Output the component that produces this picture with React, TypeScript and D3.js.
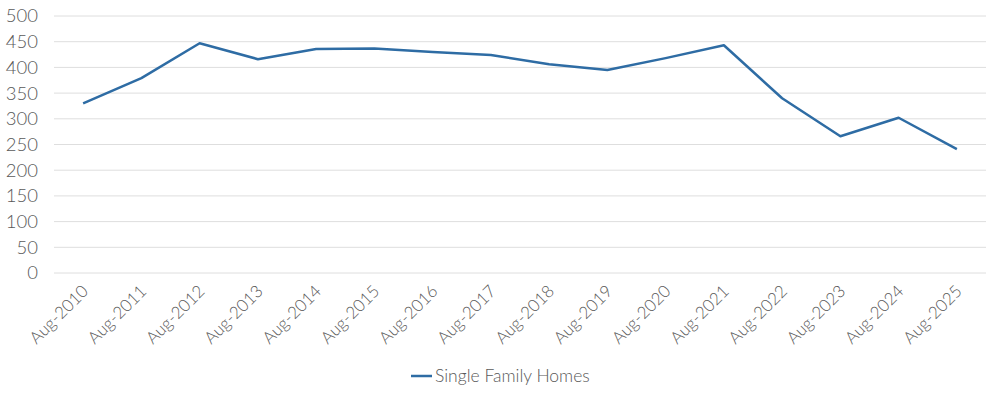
import React from 'react';
import * as d3 from 'd3';

const W = 1000;
const H = 396;

const years = ['Aug-2010', 'Aug-2011', 'Aug-2012', 'Aug-2013', 'Aug-2014', 'Aug-2015', 'Aug-2016', 'Aug-2017',
  'Aug-2018', 'Aug-2019', 'Aug-2020', 'Aug-2021', 'Aug-2022', 'Aug-2023', 'Aug-2024', 'Aug-2025'];
const homes = [330, 379, 447, 416, 436, 437, 430, 424, 406, 395, 418, 443, 340, 266, 302, 241];
const yTicks = [0, 50, 100, 150, 200, 250, 300, 350, 400, 450, 500];

const LINE = '#2e6ca4';
const TEXT = '#595959';
const FONT = 'Lato, "Open Sans", sans-serif';

export default function App() {
  const x = d3.scaleBand().domain(years).range([54, 986]);
  const y = d3.scaleLinear().domain([0, 500]).range([273, 16]);
  const line = d3
    .line<number>()
    .x((_, i) => x(years[i])! + x.bandwidth() / 2)
    .y((d) => y(d));

  return (
    <svg width={W} height={H} style={{ position: 'absolute', left: 0, top: 0 }} fontFamily={FONT} fontWeight={300}>
      {yTicks.map((t) => (
        <g key={t}>
          <line x1={54} x2={986} y1={y(t)} y2={y(t)} stroke="#dedede" strokeWidth={1} />
          <text x={38} y={y(t)} dy="0.35em" textAnchor="end" fontSize={18.5} fill={TEXT}>
            {t}
          </text>
        </g>
      ))}
      {years.map((yr) => {
        const cx = x(yr)! + x.bandwidth() / 2;
        return (
          <text
            key={yr}
            transform={`translate(${cx + 2},${288}) rotate(-45)`}
            textAnchor="end"
            dy="0.35em"
            fontSize={17}
            fill={TEXT}
          >
            {yr}
          </text>
        );
      })}
      <path d={line(homes)!} fill="none" stroke={LINE} strokeWidth={2.5} strokeLinejoin="round" />
      <line x1={411} x2={432} y1={376} y2={376} stroke={LINE} strokeWidth={2.5} />
      <text x={435} y={376} dy="0.35em" fontSize={17.5} fill={TEXT}>
        Single Family Homes
      </text>
    </svg>
  );
}
